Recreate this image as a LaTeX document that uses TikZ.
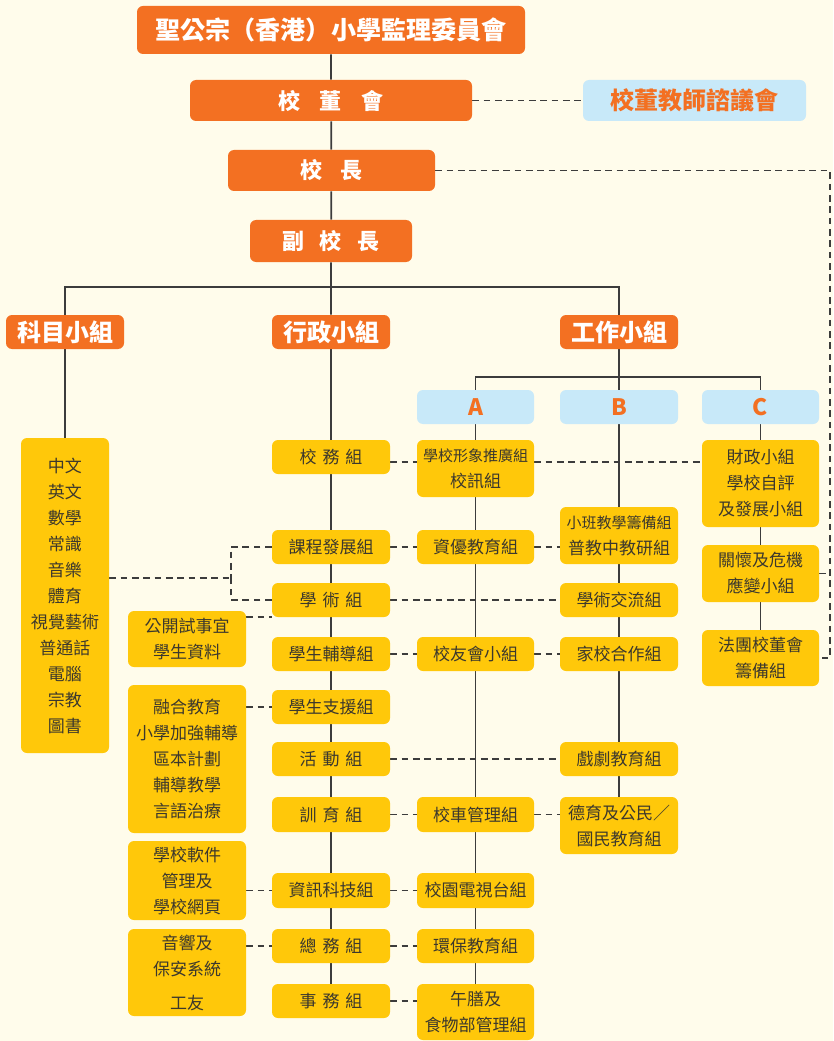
\documentclass[tikz,border=0pt]{standalone}
\usepackage{fontspec}
\setmainfont{Noto Sans CJK TC}
\definecolor{bgc}{RGB}{255,252,235}
\definecolor{org}{RGB}{243,112,34}
\definecolor{ylw}{RGB}{255,200,10}
\definecolor{lbl}{RGB}{200,233,249}
\definecolor{txt}{RGB}{60,56,45}
\definecolor{lnc}{RGB}{60,60,60}
\pgfdeclarelayer{back}
\pgfsetlayers{back,main}
\newcommand{\bx}[7]{\node[#1, minimum width={(#4-#2)*0.75pt}, minimum height={(#5-#3)*0.75pt}] (#6) at ({(#2+#4)/2},{(#3+#5)/2}) {#7};}
\newcommand{\smf}{\fontsize{11.25pt}{19.5pt}\selectfont}
\newcommand{\gp}{\kern0.35em}
\tikzset{
 base/.style={rounded corners=4.5pt, inner sep=0pt, align=center},
 obox/.style={base, fill=org, text=white, font=\bfseries\fontsize{16.5pt}{19pt}\selectfont},
 tbox/.style={base, fill=org, text=white, font=\bfseries\fontsize{18pt}{20pt}\selectfont},
 hbox/.style={base, fill=org, text=white, font=\bfseries\fontsize{18.8pt}{20pt}\selectfont},
 bbox/.style={base, fill=lbl, text=org, font=\bfseries\fontsize{18pt}{20pt}\selectfont},
 abox/.style={base, fill=lbl, text=org, font=\bfseries\fontsize{17pt}{20pt}\selectfont},
 ybox/.style={base, fill=ylw, text=txt, font=\fontsize{12.75pt}{19.5pt}\selectfont},
 sl/.style={draw=lnc, line width=1.3pt},
 dl/.style={draw=lnc, line width=1.3pt, dash pattern=on 5pt off 3.5pt},
}
\begin{document}
\begin{tikzpicture}[x=0.75pt,y=-0.75pt]
\begin{pgfonlayer}{back}
\fill[bgc] (0,0) rectangle (833,1041);
\end{pgfonlayer}
\useasboundingbox (0,0) rectangle (833,1041);
% top levels
\bx{hbox}{137}{6}{525}{54}{top}{聖公宗（香港）小學監理委員會}
\bx{obox}{190}{80}{472}{121}{board}{校\kern.9em董\kern.9em會}
\bx{bbox}{583}{80}{806}{121}{council}{校董教師諮議會}
\bx{obox}{228}{150}{435}{191}{prin}{校\kern.8em長}
\bx{obox}{250}{220}{412}{262}{vp}{副\kern.7em校\kern.7em長}
\bx{tbox}{6}{315}{124}{349}{km}{科目小組}
\bx{tbox}{272}{315}{390}{349}{xz}{行政小組}
\bx{tbox}{560}{315}{678}{349}{gz}{工作小組}
\bx{abox}{417}{390}{534}{424}{A}{A}
\bx{abox}{560}{390}{678}{424}{B}{B}
\bx{abox}{702}{390}{819}{424}{C}{C}
% subjects
\bx{ybox}{21}{438}{109}{753}{subj}{中文\\英文\\數學\\常識\\音樂\\體育\\視覺藝術\\普通話\\電腦\\宗教\\圖書}
% admin column
\bx{ybox}{272}{440}{390}{474}{x1}{校\gp 務\gp 組}
\bx{ybox}{272}{530}{390}{564}{x2}{課程發展組}
\bx{ybox}{272}{583}{390}{617}{x3}{學\gp 術\gp 組}
\bx{ybox}{272}{637}{390}{671}{x4}{學生輔導組}
\bx{ybox}{272}{690}{390}{724}{x5}{學生支援組}
\bx{ybox}{272}{742}{390}{776}{x6}{活\gp 動\gp 組}
\bx{ybox}{272}{797}{390}{832}{x7}{訓\gp 育\gp 組}
\bx{ybox}{272}{873}{390}{908}{x8}{資訊科技組}
\bx{ybox}{272}{929}{390}{963}{x9}{總\gp 務\gp 組}
\bx{ybox}{272}{984}{390}{1018}{x10}{事\gp 務\gp 組}
% left satellites
\bx{ybox}{128}{611}{246}{667}{p1}{公開試事宜\\學生資料}
\bx{ybox}{128}{685}{246}{833}{p2}{融合教育\\小學加強輔導\\區本計劃\\輔導教學\\言語治療}
\bx{ybox}{128}{841}{246}{920}{p3}{學校軟件\\管理及\\學校網頁}
\bx{ybox}{128}{929}{246}{1016}{p4}{音響及\\保安系統\\[6pt]工友}
% A column
\bx{ybox}{417}{440}{534}{497}{a1}{{\smf 學校形象推廣組}\\校訊組}
\bx{ybox}{417}{530}{534}{564}{a2}{資優教育組}
\bx{ybox}{417}{637}{534}{671}{a3}{校友會小組}
\bx{ybox}{417}{797}{534}{832}{a4}{校車管理組}
\bx{ybox}{417}{873}{534}{908}{a5}{校園電視台組}
\bx{ybox}{417}{929}{534}{963}{a6}{環保教育組}
\bx{ybox}{417}{984}{534}{1040}{a7}{午膳及\\食物部管理組}
% B column
\bx{ybox}{560}{507}{678}{564}{b1}{{\smf 小班教學籌備組}\\普教中教研組}
\bx{ybox}{560}{583}{678}{617}{b2}{學術交流組}
\bx{ybox}{560}{637}{678}{671}{b3}{家校合作組}
\bx{ybox}{560}{742}{678}{776}{b4}{戲劇教育組}
\bx{ybox}{560}{797}{678}{854}{b5}{德育及公民／\\國民教育組}
% C column
\bx{ybox}{702}{440}{819}{527}{c1}{財政小組\\學校自評\\及發展小組}
\bx{ybox}{702}{545}{819}{602}{c2}{關懷及危機\\應變小組}
\bx{ybox}{702}{630}{819}{686}{c3}{法團校董會\\籌備組}
% connectors
\coordinate (j1) at (331,287);
\coordinate (j2) at (619,377);
\coordinate (rc) at (830,658);
\coordinate (lj) at (231,578);
\begin{pgfonlayer}{back}
\draw[sl] (top) -- (board) -- (prin) -- (vp) -- (xz);
\draw[sl] (km.north) |- (j1) -| (gz.north);
\draw[sl] (km) -- (subj);
\draw[sl] (xz) -- (x1) -- (x2) -- (x3) -- (x4) -- (x5) -- (x6) -- (x7) -- (x8) -- (x9) -- (x10);
\draw[sl] (gz) -- (B);
\draw[sl] (A.north) |- (j2) -| (C.north);
\draw[sl] (A) -- (a1) -- (a2) -- (a3) -- (a4) -- (a5) -- (a6) -- (a7);
\draw[sl] (B) -- (b1) -- (b2) -- (b3) -- (b4) -- (b5);
\draw[sl] (C) -- (c1) -- (c2) -- (c3);
% dashed
\draw[dl] (board.east) -- (council.west);
\draw[dl] (prin.east) -| (rc) -- (c3.east);
\draw[dl] (c2.east) -- (c2.east -| rc);
\draw[dl] (x1.east |- 0,462) -- (a1.west |- 0,462);
\draw[dl] (a1.east |- 0,462) -- (c1.west |- 0,462);
\draw[dl] (x2.east) -- (a2.west);
\draw[dl] (a2.east) -- (b1.west |- a2.east);
\draw[dl] (subj.east |- lj) -- (lj);
\draw[dl] (x2.west) -| (lj);
\draw[dl] (x3.west) -| (lj);
\draw[dl] (p1.east |- 0,617) -- (x3.west |- 0,617);
\draw[dl] (x3.east) -- (b2.west);
\draw[dl] (x4.east) -- (a3.west);
\draw[dl] (a3.east) -- (b3.west);
\draw[dl] (p2.east |- x5) -- (x5.west);
\draw[dl] (x6.east) -- (b4.west);
\draw[dl] (x7.east) -- (a4.west);
\draw[dl] (a4.east) -- (b5.west |- a4.east);
\draw[dl] (p3.east |- x8) -- (x8.west);
\draw[dl] (x8.east) -- (a5.west);
\draw[dl] (p4.east |- x9) -- (x9.west);
\draw[dl] (x9.east) -- (a6.west);
\draw[dl] (x10.east) -- (a7.west |- x10.east);
\end{pgfonlayer}
\end{tikzpicture}
\end{document}
